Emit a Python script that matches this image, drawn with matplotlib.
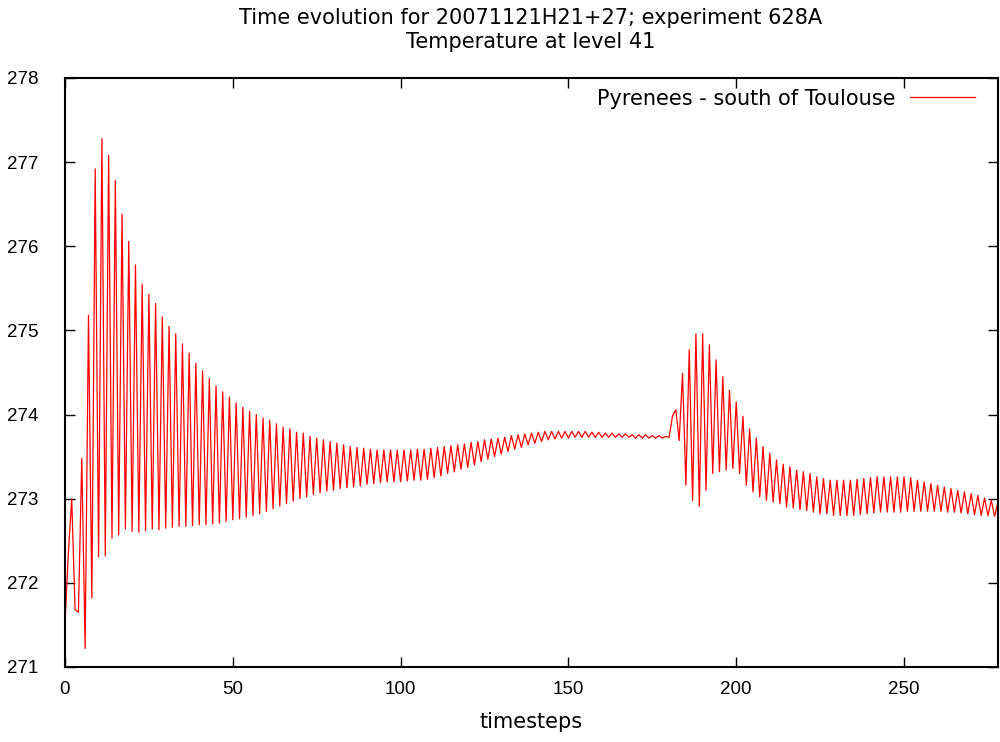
import numpy as np
import matplotlib
matplotlib.use("Agg")
import matplotlib.pyplot as plt

# ---- data ----
title_line1 = "Time evolution for 20071121H21+27; experiment 628A"
title_line2 = "Temperature at level 41"
series_label = "Pyrenees - south of Toulouse"
x_label = "timesteps"
x_ticks = [0, 50, 100, 150, 200, 250]
y_ticks = [271, 272, 273, 274, 275, 276, 277, 278]

# temperature at each timestep 0..278
temperature_0_59 = [
    271.52, 272.35, 273.00, 271.68, 271.65, 273.48, 271.22, 275.18, 271.82, 276.92,
    272.31, 277.28, 272.32, 277.08, 272.53, 276.78, 272.57, 276.38, 272.64, 276.06,
    272.61, 275.78, 272.60, 275.55, 272.62, 275.43, 272.64, 275.32, 272.63, 275.16,
    272.65, 275.05, 272.66, 274.96, 272.67, 274.84, 272.67, 274.73, 272.68, 274.61,
    272.69, 274.52, 272.69, 274.43, 272.70, 274.34, 272.71, 274.27, 272.73, 274.21,
    272.75, 274.14, 272.76, 274.09, 272.78, 274.04, 272.80, 274.00, 272.82, 273.96,
]
temperature_60_119 = [
    272.85, 273.93, 272.88, 273.89, 272.91, 273.85, 272.94, 273.83, 272.97, 273.79,
    273.00, 273.78, 273.02, 273.74, 273.05, 273.72, 273.07, 273.70, 273.09, 273.68,
    273.10, 273.66, 273.12, 273.64, 273.13, 273.62, 273.14, 273.61, 273.15, 273.60,
    273.17, 273.59, 273.18, 273.58, 273.19, 273.58, 273.20, 273.58, 273.20, 273.58,
    273.20, 273.58, 273.21, 273.58, 273.22, 273.59, 273.22, 273.59, 273.23, 273.60,
    273.25, 273.61, 273.27, 273.62, 273.30, 273.63, 273.32, 273.64, 273.35, 273.65,
]
temperature_120_179 = [
    273.37, 273.67, 273.40, 273.68, 273.44, 273.70, 273.47, 273.71, 273.50, 273.72,
    273.53, 273.73, 273.56, 273.75, 273.59, 273.76, 273.61, 273.77, 273.64, 273.78,
    273.66, 273.79, 273.68, 273.80, 273.70, 273.80, 273.71, 273.80, 273.72, 273.80,
    273.72, 273.80, 273.73, 273.80, 273.73, 273.80, 273.73, 273.79, 273.73, 273.79,
    273.73, 273.78, 273.73, 273.78, 273.73, 273.77, 273.73, 273.77, 273.73, 273.76,
    273.72, 273.76, 273.72, 273.76, 273.72, 273.75, 273.72, 273.75, 273.72, 273.74,
]
temperature_180_239 = [
    273.73, 273.98, 274.06, 273.69, 274.49, 273.16, 274.77, 272.98, 274.96, 272.91,
    274.96, 273.10, 274.83, 273.30, 274.65, 273.32, 274.45, 273.34, 274.29, 273.36,
    274.15, 273.30, 273.98, 273.16, 273.83, 273.08, 273.72, 273.02, 273.62, 272.98,
    273.54, 272.96, 273.46, 272.94, 273.41, 272.90, 273.38, 272.89, 273.34, 272.87,
    273.32, 272.86, 273.30, 272.84, 273.26, 272.82, 273.24, 272.82, 273.22, 272.80,
    273.22, 272.80, 273.22, 272.80, 273.22, 272.80, 273.23, 272.81, 273.24, 272.82,
]
temperature_240_278 = [
    273.25, 272.83, 273.26, 272.84, 273.26, 272.84, 273.26, 272.84, 273.26, 272.84,
    273.26, 272.85, 273.25, 272.85, 273.22, 272.85, 273.20, 272.85, 273.18, 272.85,
    273.16, 272.85, 273.14, 272.84, 273.12, 272.84, 273.10, 272.83, 273.08, 272.82,
    273.06, 272.81, 273.04, 272.80, 273.01, 272.80, 272.98, 272.79, 272.96,
]
temperature = (temperature_0_59 + temperature_60_119 + temperature_120_179
               + temperature_180_239 + temperature_240_278)
timesteps = np.arange(len(temperature))

# ---- figure ----
plt.rcParams['font.family'] = ['DejaVu Sans']
fs_text = 15
fs_tick = 13.5
tick_font = ['Liberation Sans', 'DejaVu Sans']

fig = plt.figure(figsize=(10, 7.42), dpi=100)
ax = fig.add_axes([0.065, 0.1011, 0.933, 0.7938])

ax.plot(timesteps, temperature, color='#ff0000', lw=0.9, label=series_label)

ax.set_xlim(0, 278)
ax.set_ylim(271, 278)
ax.set_xticks(x_ticks)
ax.set_yticks(y_ticks)
ax.tick_params(axis='both', direction='in', length=7, width=1, colors='black',
               labelsize=fs_tick, top=True, right=True)
for lab in ax.get_xticklabels() + ax.get_yticklabels():
    lab.set_family(tick_font)
ax.tick_params(axis='y', pad=19)
ax.tick_params(axis='x', pad=10)
for s in ax.spines.values():
    s.set_linewidth(1.5)
    s.set_color('black')

ax.set_xlabel(x_label, fontsize=fs_text, labelpad=10)
fig.text(0.531, 0.976, title_line1, ha='center', va='center', fontsize=fs_text)
fig.text(0.531, 0.943, title_line2, ha='center', va='center', fontsize=fs_text)

leg = ax.legend(loc='upper right', bbox_to_anchor=(0.9753, 0.982), frameon=False,
                fontsize=fs_text, markerfirst=False, handlelength=3.1,
                handletextpad=0.7, borderaxespad=0.0, borderpad=0.0)

fig.savefig('out.png', dpi=100)
